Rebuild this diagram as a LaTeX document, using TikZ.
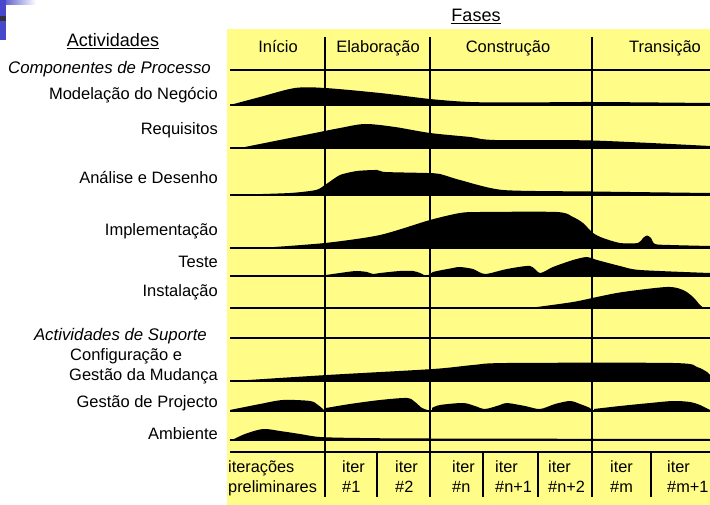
\documentclass[tikz,border=0pt]{standalone}
\usepackage{fontspec}
\setmainfont{Liberation Sans}
\definecolor{chartyellow}{RGB}{255,252,136}
\definecolor{logoblue}{RGB}{72,72,204}
\definecolor{logogray}{RGB}{50,50,60}
\begin{document}
\begin{tikzpicture}[x=1pt,y=-1pt,
  lbl/.style={inner sep=0pt, font=\fontsize{16.5}{19}\selectfont},
  ttl/.style={inner sep=0pt, font=\fontsize{18}{21}\selectfont},
  itl/.style={lbl, font=\fontsize{16.8}{19}\selectfont\itshape},
  iterlbl/.style={inner sep=0pt, align=left, anchor=north west, font=\fontsize{16.3}{20}\selectfont},
  gridline/.style={line width=2.6pt},
  phaseline/.style={line width=2.8pt},
  iterline/.style={line width=2.4pt},
  prof/.style={fill=black}]
\useasboundingbox (0,0) rectangle (710,505);
% logo
\shade[left color=logoblue, right color=white] (0,0) rectangle (36,5);
\fill[logoblue] (0,0) rectangle (6,40);
\fill[logogray] (0,16) rectangle (6,21);
% yellow area
\fill[chartyellow] (227,29) rectangle (710,505);
% titles
\node[ttl, anchor=base] (fases) at (476,22) {\underline{Fases}};
\node[ttl, anchor=base] (activ) at (113,47) {\underline{Actividades}};
% phase labels
\node[lbl, anchor=base] (ph1) at (278,53) {Início};
\node[lbl, anchor=base] (ph2) at (378,53) {Elaboração};
\node[lbl, anchor=base] (ph3) at (508,53) {Construção};
\node[lbl, anchor=base] (ph4) at (665,53) {Transição};
% activity labels
\node[itl, anchor=base east] (comp) at (211,74) {Componentes de Processo};
\node[lbl, anchor=base east] (a1) at (218,100) {Modelação do Negócio};
\node[lbl, anchor=base east] (a2) at (218,135) {Requisitos};
\node[lbl, anchor=base east] (a3) at (218,184) {Análise e Desenho};
\node[lbl, anchor=base east] (a4) at (218,236) {Implementação};
\node[lbl, anchor=base east] (a5) at (218,268) {Teste};
\node[lbl, anchor=base east] (a6) at (218,297) {Instalação};
\node[itl, anchor=base east] (sup) at (207,341) {Actividades de Suporte};
\node[lbl, anchor=base west] (a7a) at (70,360) {Configuração e};
\node[lbl, anchor=base east] (a7b) at (218,380) {Gestão da Mudança};
\node[lbl, anchor=base east] (a8) at (218,407) {Gestão de Projecto};
\node[lbl, anchor=base east] (a9) at (218,439) {Ambiente};
% profiles
\fill[prof] (230,105) -- plot[smooth, tension=0.5] coordinates {(230,105) (260,97) (295,88) (325,88) (380,93) (430,99) (470,102) (520,102.5) (592,102) (710,103)} -- (710,105) -- cycle;
\fill[prof] (240,148) -- plot[smooth, tension=0.5] coordinates {(240,148) (300,136) (340,128) (365,124) (395,127) (430,133) (470,137) (495,140) (592,140.5) (710,146)} -- (710,148) -- cycle;
\fill[prof] (230,195) -- plot[smooth, tension=0.4] coordinates {(230,195) (290,193) (316,190) (325,185) (340,175) (357,171) (377,170) (385,172) (427,173) (440,174) (460,180) (503,190) (592,191.5) (710,193)} -- (710,195) -- cycle;
\fill[prof] (260,248) -- plot[smooth, tension=0.45] coordinates {(260,248) (325,243) (380,235) (430,220) (460,213) (480,212) (557,212) (573,217) (583,223) (593,233) (603,238) (620,243) (638,243) (643,238) (647,235.5) (651,238) (655,244) (670,245) (710,246)} -- (710,248) -- cycle;
\fill[prof] (326,276) -- plot[smooth, tension=0.45] coordinates {(326,275) (347,272) (357,271) (367,272) (373,274) (380,273) (400,271) (413,271) (420,273) (427,276) (433,272) (453,268) (460,267) (473,269) (485,274) (507,269) (530,266) (540,273) (553,267) (573,260) (587,257) (597,260) (620,266) (640,270) (710,273)} -- (710,276) -- cycle;
\fill[prof] (535,308) -- plot[smooth, tension=0.5] coordinates {(537,307) (573,302) (597,297) (623,292) (667,287) (683,290) (693,297) (700,305) (704,308)} -- cycle;
\fill[prof] (233,381) -- plot[smooth, tension=0.5] coordinates {(233,381) (327,375) (433,369) (473,365) (507,363) (673,363) (697,367) (707,372) (710,375)} -- (710,381) -- cycle;
\fill[prof] (230,411) -- plot[smooth, tension=0.5] coordinates {(230,410) (260,404) (283,400) (310,401) (318,405) (324,410)} -- cycle;
\fill[prof] (326,411) -- plot[smooth, tension=0.5] coordinates {(326,408) (350,404) (380,400) (407,398) (415,402) (422,408) (428,410)} -- cycle;
\fill[prof] (432,411) -- plot[smooth, tension=0.5] coordinates {(432,408) (440,405) (463,403) (475,406) (485,409) (500,405) (507,403) (525,406) (540,409) (555,404) (570,401) (580,404) (590,408) (591,410)} -- cycle;
\fill[prof] (594,411) -- plot[smooth, tension=0.5] coordinates {(594,409) (620,406) (650,403) (673,401) (690,402) (700,405) (708,409) (710,410)} -- (710,411) -- cycle;
\fill[prof] (230,440) -- plot[smooth, tension=0.5] coordinates {(230,441) (245,434) (263,429) (280,431) (300,434) (320,437) (360,438) (430,438.5) (710,439)} -- (710,440) -- cycle;
% horizontal grid lines
\foreach \y in {70,105,148,195,248,276,308,338,381,411,440,452}
  \draw[gridline] (230,\y) -- (710,\y);
% phase lines
\foreach \x in {325,430,592}
  \draw[phaseline] (\x,37) -- (\x,497);
% iteration dividers
\foreach \x in {377,483,538,651}
  \draw[iterline] (\x,452) -- (\x,497);
% iteration labels
\node[iterlbl] (i0) at (228,460) {iterações\\preliminares};
\node[iterlbl] (i1) at (342,460) {iter\\\#1};
\node[iterlbl] (i2) at (395,460) {iter\\\#2};
\node[iterlbl] (i3) at (452,460) {iter\\\#n};
\node[iterlbl] (i4) at (495,460) {iter\\\#n+1};
\node[iterlbl] (i5) at (548,460) {iter\\\#n+2};
\node[iterlbl] (i6) at (610,460) {iter\\\#m};
\node[iterlbl] (i7) at (667,460) {iter\\\#m+1};
\end{tikzpicture}
\end{document}
